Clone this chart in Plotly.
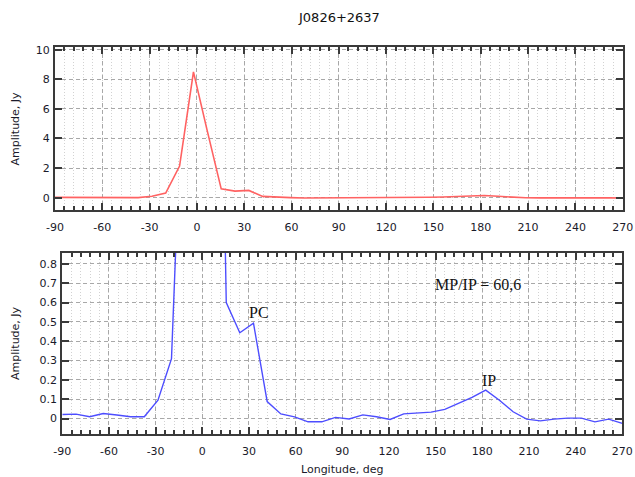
import plotly.graph_objects as go

title_text = "J0826+2637"
longitude = [-90.0, -81.2, -72.4, -63.7, -54.9, -46.1, -37.3, -28.5, -19.8, -11.0,
             -2.2, 6.6, 15.4, 24.1, 32.9, 41.7, 50.5, 59.3, 68.0, 76.8,
             85.6, 94.4, 103.2, 112.0, 120.7, 129.5, 138.3, 147.1, 155.9, 164.6,
             173.4, 182.2, 191.0, 199.8, 208.5, 217.3, 226.1, 234.9, 243.7, 252.4,
             261.2, 270.0]
amplitude = [0.021, 0.023, 0.009, 0.026, 0.018, 0.009, 0.009, 0.095, 0.31, 2.14,
             8.5, 4.5, 0.6, 0.444, 0.493, 0.088, 0.024, 0.009, -0.017, -0.017,
             0.006, -0.002, 0.019, 0.009, -0.005, 0.024, 0.03, 0.033, 0.047, 0.078,
             0.109, 0.147, 0.095, 0.035, -0.003, -0.012, -0.003, 0.002, 0.002, -0.017,
             -0.003, -0.025]

x_ticks = [-90, -60, -30, 0, 30, 60, 90, 120, 150, 180, 210, 240, 270]
x_tick_labels = ["-90", "-60", "-30", "0", "30", "60", "90", "120", "150", "180", "210", "240", "270"]
top_y_ticks = [0, 2, 4, 6, 8, 10]
bottom_y_ticks = [0, 0.1, 0.2, 0.3, 0.4, 0.5, 0.6, 0.7, 0.8]
bottom_y_labels = ["0", "0.1", "0.2", "0.3", "0.4", "0.5", "0.6", "0.7", "0.8"]

labels = [
    {"text": "PC", "x": 36.4, "y": 0.551},
    {"text": "IP", "x": 184.2, "y": 0.199},
    {"text": "MP/IP = 60,6", "x": 177.2, "y": 0.696},
]

W, H = 635, 477
FONT = "DejaVu Sans"
AXC = "#3a3a3a"
MAJ_GRID = "#a8a8a8"
MIN_GRID = "#d2d2d2"

fig = go.Figure()
fig.add_trace(go.Scatter(x=longitude, y=amplitude, mode="lines",
                         line=dict(color="#ff6262", width=1.6),
                         xaxis="x", yaxis="y", showlegend=False))
fig.add_trace(go.Scatter(x=longitude, y=amplitude, mode="lines",
                         line=dict(color="#4d4dff", width=1.4),
                         xaxis="x2", yaxis="y2", showlegend=False))


def xaxis_cfg(domain, anchor):
    return dict(
        domain=domain, anchor=anchor, range=[-90, 270], automargin=False,
        tickmode="array", tickvals=x_ticks, ticktext=x_tick_labels,
        ticks="inside", ticklen=7, tickwidth=1.5, tickcolor=AXC,
        ticklabelstandoff=6,
        showline=True, linecolor=AXC, linewidth=2, mirror="allticks",
        showgrid=True, gridcolor=MAJ_GRID, griddash="4px,3px", gridwidth=1,
        zeroline=False,
        tickfont=dict(family=FONT, size=11, color="#1a1a2a"),
        minor=dict(tick0=-90, dtick=6, ticks="inside", ticklen=4, tickwidth=1.5,
                   tickcolor=AXC, showgrid=True, gridcolor=MIN_GRID,
                   griddash="1px,2px", gridwidth=1),
    )


def yaxis_cfg(domain, anchor, rng, tv, tt):
    return dict(
        domain=domain, anchor=anchor, range=rng, automargin=False,
        tickmode="array", tickvals=tv, ticktext=tt,
        ticks="inside", ticklen=7, tickwidth=1.5, tickcolor=AXC,
        ticklabelstandoff=1,
        showline=True, linecolor=AXC, linewidth=2, mirror="allticks",
        showgrid=True, gridcolor=MAJ_GRID, griddash="4px,3px", gridwidth=1,
        zeroline=False,
        tickfont=dict(family=FONT, size=11, color="#1a1a2a"),
    )


annotations = [
    dict(text=title_text, xref="paper", yref="paper", x=338.9 / W, y=1 - 18 / H,
         showarrow=False, xanchor="center", yanchor="middle",
         font=dict(family=FONT, size=13, color="#111")),
    dict(text="Amplitude, Jy", xref="paper", yref="paper", x=15 / W, y=1 - 128.5 / H,
         showarrow=False, textangle=-90, xanchor="center", yanchor="middle",
         font=dict(family=FONT, size=11, color="#1a1a2a")),
    dict(text="Amplitude, Jy", xref="paper", yref="paper", x=15 / W, y=1 - 343 / H,
         showarrow=False, textangle=-90, xanchor="center", yanchor="middle",
         font=dict(family=FONT, size=11, color="#1a1a2a")),
    dict(text="Longitude, deg", xref="paper", yref="paper", x=342.3 / W, y=1 - 469 / H,
         showarrow=False, xanchor="center", yanchor="middle",
         font=dict(family=FONT, size=11, color="#1a1a2a")),
]
for lab in labels:
    annotations.append(dict(text=lab["text"], xref="x2", yref="y2", x=lab["x"], y=lab["y"],
                            showarrow=False, xanchor="center", yanchor="middle",
                            font=dict(family="Liberation Serif", size=16, color="#111")))

fig.update_layout(
    width=W, height=H,
    margin=dict(l=0, r=0, t=0, b=0, autoexpand=False),
    paper_bgcolor="white", plot_bgcolor="white",
    xaxis=xaxis_cfg([55 / W, 622.7 / W], "y"),
    yaxis=yaxis_cfg([1 - 210 / H, 1 - 47 / H], "x", [-0.83, 10.18], top_y_ticks,
                    [str(v) for v in top_y_ticks]),
    xaxis2=xaxis_cfg([62.3 / W, 622.3 / W], "y2"),
    yaxis2=yaxis_cfg([1 - 434 / H, 1 - 252.7 / H], "x2", [-0.08, 0.858], bottom_y_ticks,
                     bottom_y_labels),
    annotations=annotations,
    showlegend=False,
)

fig.write_html("out.html", config={"displayModeBar": False},
               post_script="document.body.style.margin='0px';document.body.style.padding='0px';")
